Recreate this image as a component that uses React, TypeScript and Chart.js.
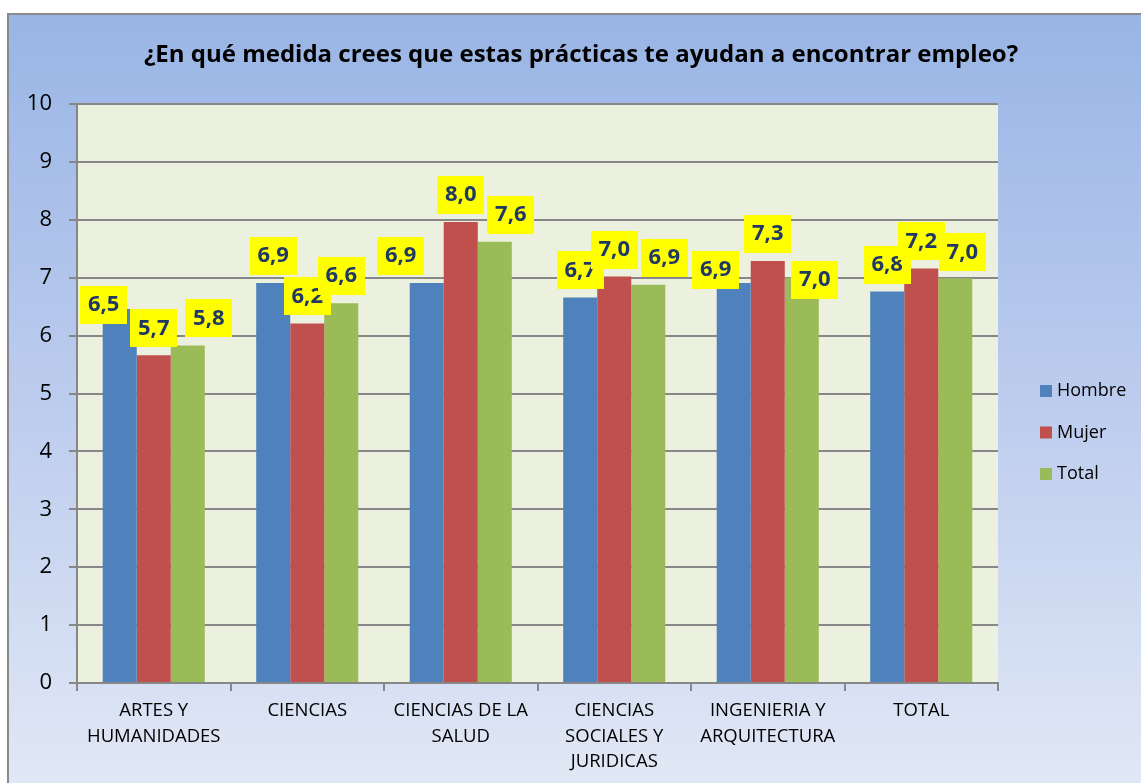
import React, { useEffect, useRef } from "react";
import { Chart, registerables } from "chart.js";

Chart.register(...registerables);

const TITLE = "¿En qué medida crees que estas prácticas te ayudan a encontrar empleo?";
const categories: string[][] = [
  ["ARTES Y", "HUMANIDADES"],
  ["CIENCIAS"],
  ["CIENCIAS DE LA", "SALUD"],
  ["CIENCIAS", "SOCIALES Y", "JURIDICAS"],
  ["INGENIERIA Y", "ARQUITECTURA"],
  ["TOTAL"],
];
const seriesNames = ["Hombre", "Mujer", "Total"];
const hombre = [6.46, 6.91, 6.91, 6.66, 6.91, 6.76];
const mujer = [5.66, 6.21, 7.96, 7.02, 7.29, 7.16];
const total = [5.83, 6.56, 7.62, 6.88, 7.0, 6.99];
const yTicks = [0, 1, 2, 3, 4, 5, 6, 7, 8, 9, 10];

const COLORS = ["#4F81BD", "#C0504D", "#9BBB59"];
const FONT = "'Open Sans', 'Noto Sans', sans-serif";
const GRID = "#878787";

// label nudges (px) per dataset / category, mimicking manual placement
const NUDGES: [number, number][][] = [
  [[-16, 23], [0, 0], [-26, 0], [0, 0], [-18, 14], [0, 0]],
  [[0, 0], [0, 0], [0, 0], [0, 0], [0, 0], [0, 0]],
  [[21, 0], [0, 0], [16, 0], [16, 0], [13, 29], [7, 1]],
];

const decorPlugin = {
  id: "decor",
  beforeDraw(chart: any) {
    const { ctx, width, height, chartArea } = chart;
    ctx.save();
    ctx.fillStyle = "#ffffff";
    ctx.fillRect(0, 0, width, height);
    const g = ctx.createLinearGradient(0, 14, 0, height);
    g.addColorStop(0, "#99B5E5");
    g.addColorStop(0.5, "#BCCCEE");
    g.addColorStop(1, "#E1E8F5");
    ctx.fillStyle = g;
    ctx.fillRect(8, 14, width - 8, height - 14);
    ctx.strokeStyle = "#8A8A8A";
    ctx.lineWidth = 2;
    ctx.beginPath();
    ctx.moveTo(8, height);
    ctx.lineTo(8, 14);
    ctx.lineTo(width, 14);
    ctx.stroke();
    ctx.fillStyle = "#EBF1DE";
    ctx.fillRect(chartArea.left, chartArea.top, chartArea.right - chartArea.left, chartArea.bottom - chartArea.top);
    // title
    ctx.fillStyle = "#000000";
    ctx.font = `bold 24px ${FONT}`;
    ctx.textAlign = "center";
    ctx.textBaseline = "middle";
    ctx.fillText(TITLE, 581, 55);
    ctx.restore();
  },
  afterDraw(chart: any) {
    const { ctx, chartArea } = chart;
    ctx.save();
    // data labels
    chart.data.datasets.forEach((ds: any, di: number) => {
      const meta = chart.getDatasetMeta(di);
      meta.data.forEach((bar: any, i: number) => {
        const v = ds.data[i] as number;
        const [dx, dy] = NUDGES[di][i];
        const w = 47;
        const h = 38;
        const cx = bar.x + dx;
        const bottom = bar.y - 8 + dy;
        ctx.fillStyle = "#FFFF00";
        ctx.fillRect(Math.round(cx - w / 2), Math.round(bottom - h), w, h);
        ctx.fillStyle = "#1F3864";
        ctx.font = `bold 22px ${FONT}`;
        ctx.textAlign = "center";
        ctx.textBaseline = "middle";
        ctx.fillText(v.toFixed(1).replace(".", ","), cx, bottom - h / 2);
      });
    });
    // legend
    chart.data.datasets.forEach((ds: any, di: number) => {
      const x = chartArea.right + 42;
      const y = 391 + di * 41.5;
      ctx.fillStyle = ds.backgroundColor;
      ctx.fillRect(x, y - 6, 12, 12);
      ctx.fillStyle = "#000000";
      ctx.font = `18px ${FONT}`;
      ctx.textAlign = "left";
      ctx.textBaseline = "middle";
      ctx.fillText(ds.label, x + 17, y);
    });
    ctx.restore();
  },
};

export default function App() {
  const ref = useRef<HTMLCanvasElement | null>(null);
  useEffect(() => {
    if (!ref.current) return;
    const chart = new Chart(ref.current, {
      type: "bar",
      data: {
        labels: categories,
        datasets: [hombre, mujer, total].map((d, i) => ({
          label: seriesNames[i],
          data: d,
          backgroundColor: COLORS[i],
          borderWidth: 0,
          barPercentage: 1,
          categoryPercentage: 0.665,
        })),
      },
      options: {
        responsive: false,
        devicePixelRatio: 1,
        animation: false,
        layout: { padding: { top: 104, right: 143, left: 0, bottom: 0 } },
        plugins: {
          legend: { display: false },
          title: { display: false },
          tooltip: { enabled: false },
        },
        scales: {
          x: {
            afterFit: (s: any) => {
              s.height = 100;
            },
            grid: {
              display: true,
              drawOnChartArea: false,
              offset: true,
              tickLength: 8,
              color: GRID,
              lineWidth: 2,
            },
            border: { display: true, color: GRID, width: 2 },
            ticks: {
              color: "#000000",
              font: { family: FONT, size: 18.5, lineHeight: 1.38 },
              padding: 7,
              maxRotation: 0,
              autoSkip: false,
            },
          },
          y: {
            min: 0,
            max: 10,
            afterFit: (s: any) => {
              s.width = 77;
            },
            afterBuildTicks: (s: any) => {
              s.ticks = yTicks.map((v) => ({ value: v }));
            },
            grid: { color: GRID, lineWidth: 2, tickLength: 8 },
            border: { display: true, color: GRID, width: 2 },
            ticks: {
              color: "#000000",
              font: { family: FONT, size: 22 },
              padding: 17,
              stepSize: 1,
            },
          },
        },
      },
      plugins: [decorPlugin],
    });
    return () => chart.destroy();
  }, []);
  return (
    <div style={{ position: "fixed", left: 0, top: 0, width: 1141, height: 783, overflow: "hidden" }}>
      <canvas ref={ref} width={1141} height={783} style={{ display: "block" }} />
    </div>
  );
}
